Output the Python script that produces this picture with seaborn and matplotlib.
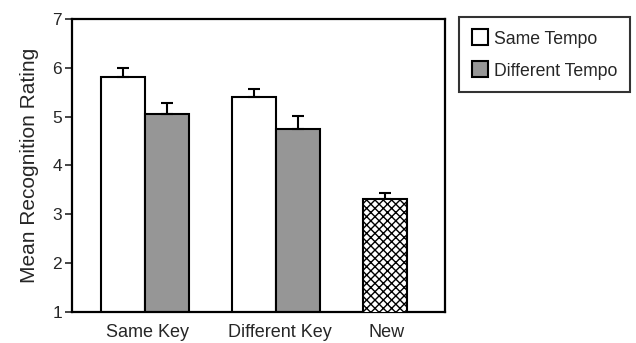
import numpy as np
import pandas as pd
import matplotlib
matplotlib.use('Agg')
import matplotlib.pyplot as plt
import seaborn as sns
from matplotlib.lines import Line2D

# valores
keys = ['Same Key', 'Different Key', 'New']
same_tempo = [5.82, 5.40, 3.31]
diff_tempo = [5.06, 4.75]
same_err = [0.17, 0.17, 0.12]
diff_err = [0.22, 0.26]
tempos = ['Same Tempo', 'Different Tempo']

sns.set_style('ticks')
plt.rcParams['font.family'] = ['Liberation Sans', 'DejaVu Sans']
plt.rcParams['hatch.linewidth'] = 1.0

linhas = []
for k, v, e in zip(keys, same_tempo, same_err):
    linhas.append({'Key': k, 'Tempo': 'Same Tempo', 'Rating': v, 'Err': e})
for k, v, e in zip(keys, diff_tempo, diff_err):
    linhas.append({'Key': k, 'Tempo': 'Different Tempo', 'Rating': v, 'Err': e})
dados = pd.DataFrame(linhas)

fig = plt.figure(figsize=(6.36, 3.43), dpi=100)
ax = fig.add_axes([0.113, 0.0904, 0.587, 0.8542])

cores = {'Same Tempo': 'white', 'Different Tempo': '#969696'}
sns.barplot(dados, x='Key', y='Rating', hue='Tempo', order=keys, hue_order=tempos,
            palette=cores, width=0.67, saturation=1, edgecolor='black',
            linewidth=1.5, errorbar=None, legend=False, ax=ax)

# barras de erro (so para cima) e hachura da barra New
for cont, tempo in zip(ax.containers, tempos):
    sub = dados[dados['Tempo'] == tempo].set_index('Key')
    for barra, k in zip(cont.patches, keys):
        if k not in sub.index or np.isnan(barra.get_height()):
            continue
        xc = barra.get_x() + barra.get_width() / 2
        h = barra.get_height()
        ax.errorbar(xc, h, yerr=[[0], [sub.loc[k, 'Err']]], fmt='none',
                    ecolor='black', elinewidth=1.5, capsize=4.3, capthick=1.5, zorder=1)
        if k == 'New':
            barra.set_hatch('xxxx')
            barra.set_zorder(3)

ax.set_ylim(1, 7)
ax.set_yticks(range(1, 8))
ax.set_xlim(-0.557, 2.29)
ax.set_xticks([0.02, 1.03, 2 - 0.67 / 4 + 0.01])
ax.set_xticklabels(keys)
ax.tick_params(axis='x', length=0, labelsize=13, pad=9)
ax.tick_params(axis='y', length=5, width=1.2, labelsize=12.5, pad=2, direction='out')
for s in ax.spines.values():
    s.set_linewidth(1.6)
    s.set_color('black')
    s.set_visible(True)
ax.set_xlabel('')
ax.set_ylabel('Mean Recognition Rating', fontsize=15, labelpad=10)

# legenda com quadrados
handles = [Line2D([], [], marker='s', markersize=11, markerfacecolor=cores[t],
                  markeredgecolor='black', markeredgewidth=1.5, linestyle='none', label=t)
           for t in tempos]
leg = fig.legend(handles=handles, loc='upper left', bbox_to_anchor=(459 / 636, 1 - 17 / 343),
                 fontsize=12.7, frameon=True, fancybox=False, handlelength=0.9, handleheight=1.0,
                 handletextpad=0.35, borderpad=0.72, labelspacing=0.8, borderaxespad=0)
leg.get_frame().set_edgecolor('black')
leg.get_frame().set_linewidth(1.5)

fig.savefig('out.png', dpi=100)
